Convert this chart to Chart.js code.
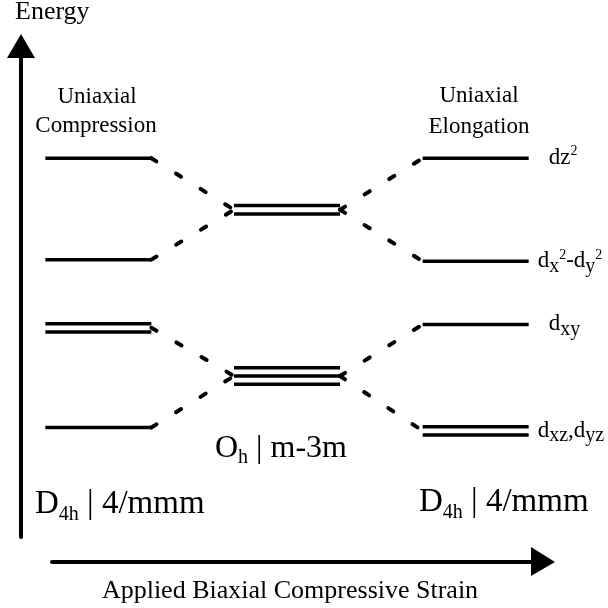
<!DOCTYPE html>
<html>
<head>
<meta charset="utf-8">
<script src="https://cdn.jsdelivr.net/npm/chart.js@4/dist/chart.umd.min.js"></script>
<style>
  html, body { margin: 0; background: #fff; }
  #wrap { width: 608px; height: 608px; }
</style>
</head>
<body>
<div id="wrap"><canvas id="chart"></canvas></div>
<script>
// Energy levels in Dq (O_h splitting: eg = +6, t2g = -4)
const columnX = [0, 1, 2];
const compressionEnergy = [9.1, 3.0, -1.1, -7.1];
const compressionDegeneracy = [1, 1, 2, 1];
const cubicEnergy = [6.0, -4.0];
const cubicDegeneracy = [2, 3];
const elongationEnergy = [9.1, 2.9, -0.9, -7.3];
const elongationDegeneracy = [1, 1, 1, 2];
// index of the O_h level each tetragonal level comes from
const parentLevel = [0, 0, 1, 1];

// orbital labels for the elongation column: [text, 'n' | 'sub' | 'sup']
const orbitalLabels = [
  [['dz', 'n'], ['2', 'sup']],
  [['d', 'n'], ['x', 'sub'], ['2', 'sup'], ['-d', 'n'], ['y', 'sub'], ['2', 'sup']],
  [['d', 'n'], ['xy', 'sub']],
  [['d', 'n'], ['xz', 'sub'], [',d', 'n'], ['yz', 'sub']]
];
const labelGap = [20, 9, 20, 9];

const HALF = 0.281;     // half width of a level line (x units)
const SPLIT = 0.5;      // spacing between degenerate lines (Dq)
const SERIF = '"Liberation Serif", "Times New Roman", serif';

const datasets = [];

const addLevels = (col, energies, degeneracy) => {
  energies.forEach((e, i) => {
    const n = degeneracy[i];
    for (let k = 0; k < n; k++) {
      const y = e + ((n - 1) / 2 - k) * SPLIT;
      datasets.push({
        data: [{ x: columnX[col] - HALF, y }, { x: columnX[col] + HALF, y }],
        borderColor: '#000',
        borderWidth: 3.5,
        pointRadius: 0,
        showLine: true
      });
    }
  });
};

const addConnectors = (fromCol, fromE, toCol, toE) => {
  datasets.push({
    data: [{ x: columnX[fromCol] + HALF, y: fromE }, { x: columnX[toCol] - HALF, y: toE }],
    borderColor: '#000',
    borderWidth: 4,
    borderDash: [6, 23],
    borderCapStyle: 'round',
    pointRadius: 0,
    showLine: true
  });
};

addLevels(0, compressionEnergy, compressionDegeneracy);
addLevels(1, cubicEnergy, cubicDegeneracy);
addLevels(2, elongationEnergy, elongationDegeneracy);
parentLevel.forEach((p, i) => {
  addConnectors(0, compressionEnergy[i], 1, cubicEnergy[p]);
  addConnectors(1, cubicEnergy[p], 2, elongationEnergy[i]);
});

// draw text with sub/superscripts
const partSize = (m, size, ratio) => (m === 'n' ? size : Math.round(size * (m === 'sup' ? 0.62 : ratio)));

const richWidth = (ctx, parts, size, ratio) => parts.reduce((w, [t, m]) => {
  ctx.font = `${partSize(m, size, ratio)}px ${SERIF}`;
  return w + ctx.measureText(t).width;
}, 0);

const drawRich = (ctx, parts, x, y, size, align = 'left', ratio = 0.62) => {
  let cx = align === 'center' ? x - richWidth(ctx, parts, size, ratio) / 2 : x;
  ctx.textAlign = 'left';
  ctx.textBaseline = 'alphabetic';
  parts.forEach(([t, m]) => {
    const dy = m === 'sub' ? size * 0.2 : m === 'sup' ? -size * 0.38 : 0;
    ctx.font = `${partSize(m, size, ratio)}px ${SERIF}`;
    ctx.fillText(t, cx, y + dy);
    cx += ctx.measureText(t).width;
  });
};

const diagramDecor = {
  id: 'diagramDecor',
  beforeDraw(chart) {
    const { ctx } = chart;
    ctx.save();
    ctx.fillStyle = '#fff';
    ctx.fillRect(0, 0, chart.width, chart.height);
    ctx.restore();
  },
  afterDraw(chart) {
    const { ctx, scales: { x, y } } = chart;
    ctx.save();
    ctx.fillStyle = '#000';
    ctx.strokeStyle = '#000';
    ctx.lineCap = 'round';
    ctx.lineWidth = 4;

    // energy axis arrow
    ctx.beginPath();
    ctx.moveTo(21, 537);
    ctx.lineTo(21, 56);
    ctx.stroke();
    ctx.beginPath();
    ctx.moveTo(7, 58);
    ctx.lineTo(35, 58);
    ctx.lineTo(21, 34);
    ctx.closePath();
    ctx.fill();

    // strain axis arrow
    ctx.beginPath();
    ctx.moveTo(52, 562);
    ctx.lineTo(532, 562);
    ctx.stroke();
    ctx.beginPath();
    ctx.moveTo(531, 547);
    ctx.lineTo(531, 576);
    ctx.lineTo(555, 562);
    ctx.closePath();
    ctx.fill();

    drawRich(ctx, [['Energy', 'n']], 15, 19, 26);
    drawRich(ctx, [['Uniaxial', 'n']], 97, 103, 23, 'center');
    drawRich(ctx, [['Compression', 'n']], 96, 132, 23, 'center');
    drawRich(ctx, [['Uniaxial', 'n']], 479, 102, 23, 'center');
    drawRich(ctx, [['Elongation', 'n']], 479, 133, 23, 'center');

    drawRich(ctx, [['O', 'n'], ['h', 'sub'], [' | m-3m', 'n']], 215, 457, 32);
    drawRich(ctx, [['D', 'n'], ['4h', 'sub'], [' | 4/mmm', 'n']], 35, 513, 33);
    drawRich(ctx, [['D', 'n'], ['4h', 'sub'], [' | 4/mmm', 'n']], 419, 511, 33);
    drawRich(ctx, [['Applied Biaxial Compressive Strain', 'n']], 290, 598, 26, 'center');

    // orbital labels next to the elongation levels
    const right = x.getPixelForValue(columnX[2] + HALF);
    orbitalLabels.forEach((parts, i) => {
      drawRich(ctx, parts, right + labelGap[i], y.getPixelForValue(elongationEnergy[i]) + 6, 23, 'left', 0.85);
    });
    ctx.restore();
  }
};

new Chart(document.getElementById('chart'), {
  type: 'scatter',
  data: { datasets },
  options: {
    responsive: true,
    maintainAspectRatio: false,
    animation: false,
    layout: { padding: { left: 4, right: 38, top: 110, bottom: 99 } },
    plugins: {
      legend: { display: false },
      tooltip: { enabled: false }
    },
    scales: {
      x: { type: 'linear', min: -0.5, max: 2.5, display: false },
      y: { type: 'linear', min: -12, max: 12, display: false }
    }
  },
  plugins: [diagramDecor]
});
</script>
</body>
</html>
